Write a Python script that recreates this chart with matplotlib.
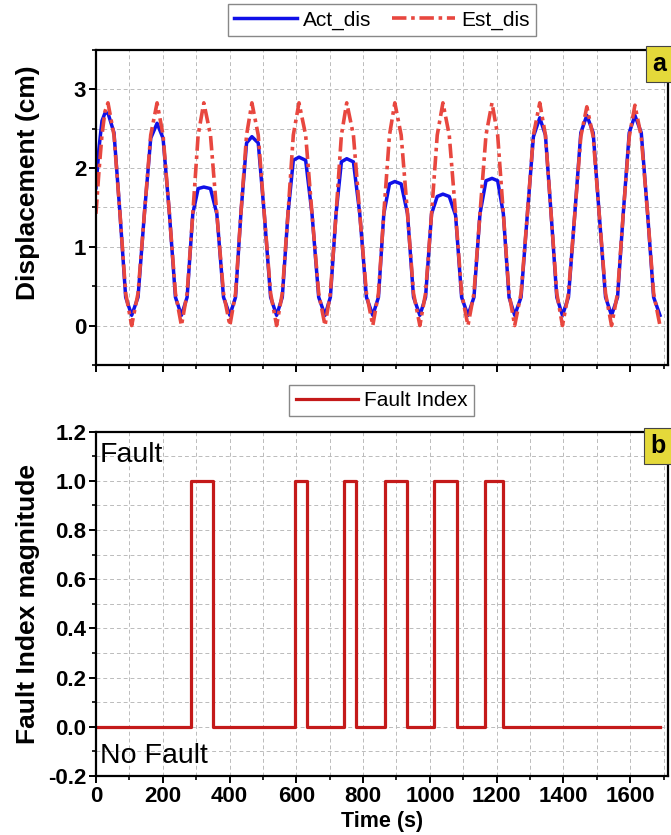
import matplotlib
matplotlib.use("Agg")
import matplotlib.pyplot as plt
from matplotlib.ticker import MultipleLocator, FormatStrFormatter

plt.rcParams['font.family'] = ['Liberation Sans', 'DejaVu Sans']
plt.rcParams['axes.unicode_minus'] = False

# time stamps (s)
t_disp = [0, 9, 18, 27,
          36, 54, 72, 89,
          107, 126, 145, 164,
          183, 201, 220, 238,
          256, 273, 290, 306,
          323, 343, 362, 382,
          401, 418, 434, 451,
          467, 486, 504, 523,
          541, 558, 575, 591,
          608, 628, 647, 667,
          686, 702, 719, 735,
          751, 771, 790, 810,
          829, 846, 862, 879,
          895, 914, 933, 951,
          970, 987, 1005, 1022,
          1039, 1058, 1077, 1095,
          1114, 1132, 1150, 1168,
          1186, 1203, 1220, 1237,
          1254, 1273, 1292, 1310,
          1329, 1346, 1363, 1380,
          1397, 1415, 1434, 1452,
          1470, 1489, 1507, 1526,
          1544, 1562, 1579, 1597,
          1614, 1633, 1652, 1670,
          1689]

# actual displacement (cm)
act_dis = [1.75, 2.25, 2.60, 2.70,
           2.70, 2.45, 1.42, 0.36,
           0.13, 0.36, 1.42, 2.38,
           2.57, 2.38, 1.42, 0.36,
           0.13, 0.36, 1.42, 1.74,
           1.76, 1.74, 1.42, 0.36,
           0.13, 0.36, 1.42, 2.32,
           2.40, 2.32, 1.42, 0.36,
           0.13, 0.36, 1.42, 2.10,
           2.14, 2.10, 1.42, 0.36,
           0.13, 0.36, 1.42, 2.08,
           2.12, 2.08, 1.42, 0.36,
           0.13, 0.36, 1.42, 1.80,
           1.83, 1.80, 1.42, 0.36,
           0.13, 0.36, 1.42, 1.64,
           1.67, 1.64, 1.40, 0.36,
           0.13, 0.36, 1.42, 1.84,
           1.87, 1.84, 1.42, 0.36,
           0.13, 0.36, 1.42, 2.40,
           2.64, 2.42, 1.42, 0.36,
           0.13, 0.36, 1.42, 2.45,
           2.67, 2.45, 1.42, 0.36,
           0.13, 0.36, 1.42, 2.45,
           2.67, 2.45, 1.42, 0.36,
           0.13]

# estimated displacement (cm)
est_dis = [1.42, 1.96, 2.42, 2.72,
           2.83, 2.42, 1.42, 0.41,
           0.00, 0.41, 1.42, 2.42,
           2.83, 2.42, 1.42, 0.41,
           0.00, 0.41, 1.42, 2.42,
           2.83, 2.42, 1.42, 0.41,
           0.00, 0.41, 1.42, 2.42,
           2.83, 2.42, 1.42, 0.41,
           0.00, 0.41, 1.42, 2.42,
           2.83, 2.42, 1.42, 0.41,
           0.00, 0.41, 1.42, 2.42,
           2.83, 2.42, 1.42, 0.41,
           0.00, 0.41, 1.42, 2.42,
           2.83, 2.42, 1.42, 0.41,
           0.00, 0.41, 1.42, 2.42,
           2.83, 2.42, 1.42, 0.41,
           0.00, 0.41, 1.42, 2.42,
           2.83, 2.42, 1.42, 0.41,
           0.00, 0.41, 1.42, 2.42,
           2.83, 2.42, 1.42, 0.41,
           0.00, 0.41, 1.42, 2.40,
           2.78, 2.40, 1.42, 0.41,
           0.00, 0.41, 1.42, 2.40,
           2.80, 2.40, 1.42, 0.41,
           0.00]

# fault windows (s)
fault_start = [285, 595, 742, 867, 1013, 1165]
fault_end = [350, 632, 780, 930, 1080, 1220]
t_end = 1690

fx = [0]
fy = [0]
for s, e in zip(fault_start, fault_end):
    fx += [s, s, e, e]
    fy += [0, 1, 1, 0]
fx.append(t_end)
fy.append(0)

fig = plt.figure(figsize=(6.71, 8.35), dpi=100)
ax1 = fig.add_axes([0.143, 0.563, 0.852, 0.377])
ax2 = fig.add_axes([0.143, 0.0707, 0.852, 0.4123])

ax1.plot(t_disp, act_dis, color='#1010e8', linewidth=2.5, label='Act_dis',
         solid_joinstyle='round')
est_line, = ax1.plot(t_disp, est_dis, color='#e8473f', linewidth=2.6, label='Est_dis')
est_line.set_dashes((4, 1.3, 1, 1.3))

ax2.plot(fx, fy, color='#c41a1a', linewidth=2.3, label='Fault Index')

for ax in (ax1, ax2):
    ax.set_xlim(0, 1712)
    ax.xaxis.set_major_locator(MultipleLocator(200))
    ax.xaxis.set_minor_locator(MultipleLocator(100))
    ax.grid(which='both', linestyle=(0, (4, 3)), color='#bbbbbb', linewidth=0.7)
    ax.tick_params(which='major', direction='out', length=5, width=1.4, labelsize=16,
                   pad=2)
    ax.tick_params(which='minor', direction='out', length=3, width=1.2)
    ax.tick_params(axis='y', which='both', right=False)
    for sp in ax.spines.values():
        sp.set_linewidth(1.6)

ax1.set_ylim(-0.5, 3.5)
ax1.yaxis.set_major_locator(MultipleLocator(1))
ax1.yaxis.set_minor_locator(MultipleLocator(0.5))
ax1.tick_params(axis='x', labelbottom=False)
ax1.set_ylabel('Displacement (cm)', fontsize=19, fontweight='bold')
ax1.yaxis.set_label_coords(-0.097, 0.58)
for lab in ax1.get_yticklabels():
    lab.set_fontweight('bold')

ax2.set_ylim(-0.2, 1.2)
ax2.yaxis.set_major_locator(MultipleLocator(0.2))
ax2.yaxis.set_minor_locator(MultipleLocator(0.1))
ax2.yaxis.set_major_formatter(FormatStrFormatter('%.1f'))
ax2.set_ylabel('Fault Index magnitude', fontsize=19, fontweight='bold')
ax2.yaxis.set_label_coords(-0.097, 0.5)
ax2.set_xlabel('Time (s)', fontsize=15.5, fontweight='bold')
ax2.xaxis.set_label_coords(0.5, -0.101)
for lab in ax2.get_xticklabels() + ax2.get_yticklabels():
    lab.set_fontweight('bold')

ax2.text(12, 1.107, 'Fault', fontsize=20.5, va='center', ha='left')
ax2.text(12, -0.12, 'No Fault', fontsize=20.5, va='center', ha='left')

for ax, tag in ((ax1, 'a'), (ax2, 'b')):
    ax.text(0.997, 0.994, tag, transform=ax.transAxes, ha='right', va='top',
            fontsize=18, fontweight='bold',
            bbox=dict(boxstyle='square,pad=0.25', fc='#e4d93a', ec='#444444', lw=0.8))

leg_kw = dict(loc='lower center', frameon=True, fancybox=False, edgecolor='#888888',
              framealpha=1, fontsize=15, handlelength=3.0, handletextpad=0.3,
              borderpad=0.3, columnspacing=1.0)
ax1.legend(ncol=2, bbox_to_anchor=(0.5, 1.012), **leg_kw)
ax2.legend(bbox_to_anchor=(0.5, 1.015), **leg_kw)

fig.savefig('out.png', dpi=100)
